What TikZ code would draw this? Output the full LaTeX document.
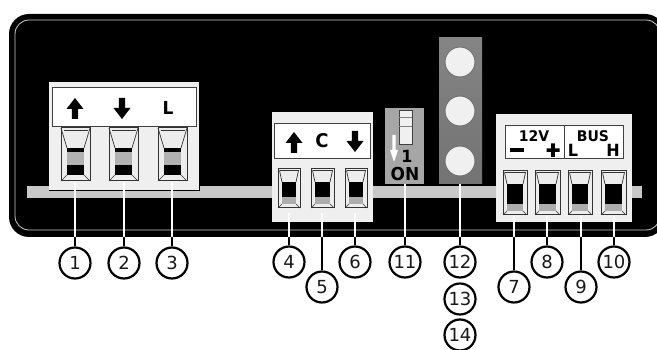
\documentclass[tikz,border=0pt]{standalone}
\usepackage{fontspec}
\setmainfont{DejaVu Sans}
\definecolor{blockfill}{HTML}{EFEFEF}
\definecolor{strip}{HTML}{C8C8C8}
\tikzset{
  x=1pt,y=-1pt,
  blockbox/.style={fill=blockfill,draw=none},
  labelbox/.style={fill=white,draw=black!75,line width=1pt},
  lead/.style={line width=2.2pt,white},
  leadout/.style={line width=2.2pt,black},
  callout/.style={circle,draw=black,line width=2.2pt,fill=white,minimum size=31pt,inner sep=0pt,font=\fontsize{18}{18}\selectfont,text=black!90},
  boldlabel/.style={inner sep=0pt,font=\bfseries\fontsize{14}{14}\selectfont,text=black,yscale=1.05},
  bevel/.style={draw=black!80,line width=0.7pt},
}
\newcommand{\termA}[1]{% left x, 29 wide, y 128-181
  \begin{scope}[shift={(#1,128)}]
    \fill[black!7] (0,0) rectangle (29,53);
    \fill[black] (6,20) rectangle (23,47);
    \fill[black!30] (6,24) rectangle (23,37);
    \draw[bevel,line width=1pt] (0,0) rectangle (29,53);
    \draw[bevel] (0,0) -- (6,20) (29,0) -- (23,20) (0,53) -- (6,47) (29,53) -- (23,47);
    \draw[bevel] (2.5,2) -- (26.5,2);
  \end{scope}}
\newcommand{\termB}[4]{% left x, top y, width, height
  \begin{scope}[shift={(#1,#2)}]
    \fill[black!7] (0,0) rectangle (#3,#4);
    \fill[black] (4,13) rectangle ({#3-4},{#4-4});
    \fill[black!32] (4,{#4-11}) rectangle ({#3-4},{#4-4});
    \draw[bevel,line width=1pt] (0,0) rectangle (#3,#4);
    \draw[bevel] (1.5,1.5) -- (4,13) ({#3-1.5},1.5) -- ({#3-4},13) (0,#4) -- (4,{#4-4}) (#3,#4) -- ({#3-4},{#4-4});
    \draw[bevel] (1.5,1.5) -- ({#3-1.5},1.5);
  \end{scope}}
\newcommand{\uparrowglyph}[3]{% x, top y, bottom y
  \fill[black] (#1,#2) -- ({#1+8.5},{#2+11}) -- ({#1+3.2},{#2+11}) -- ({#1+3.2},#3) -- ({#1-3.2},#3) -- ({#1-3.2},{#2+11}) -- ({#1-8.5},{#2+11}) -- cycle;}
\newcommand{\downarrowglyph}[3]{% x, top y, bottom y
  \fill[black] (#1,#3) -- ({#1+8.5},{#3-11}) -- ({#1+3.2},{#3-11}) -- ({#1+3.2},#2) -- ({#1-3.2},#2) -- ({#1-3.2},{#3-11}) -- ({#1-8.5},{#3-11}) -- cycle;}
\begin{document}
\begin{tikzpicture}
\useasboundingbox (0,0) rectangle (657,350);
% panel
\fill[black,rounded corners=20pt] (9,14) rectangle (665,237);
\draw[white!80!black,line width=0.8pt,rounded corners=14pt] (15,20) rectangle (660,230);
% strip
\fill[strip] (27,186) rectangle (642,198);
% block A
\fill[black] (49,186) rectangle (200,191);
\path[blockbox] (49,82) rectangle (199,190);
\path[labelbox] (52,88) rectangle (196,127);
\termA{61}\termA{109}\termA{158}
\uparrowglyph{75}{98}{119}
\downarrowglyph{122}{98}{119}
\node[boldlabel,font=\bfseries\fontsize{17}{17}\selectfont] (tL) at (168,108) {L};
% block B
\path[blockbox] (272,112) rectangle (373,222);
\path[labelbox] (274.5,124) rectangle (370.5,159);
\termB{278}{169}{22}{39}\termB{311}{169}{23}{39}\termB{345}{169}{22}{39}
\uparrowglyph{294}{132}{153}
\downarrowglyph{355}{131}{152}
\node[boldlabel,font=\bfseries\fontsize{18}{18}\selectfont] (tC) at (322,141) {C};
% switch
\fill[black!35] (385,108) rectangle (424,184);
\draw[black!75,fill=black!6,line width=1pt] (399,111) rectangle (412,145);
\draw[black!50,line width=0.6pt] (399,117) -- (412,117) (399,126) -- (412,126);
\fill[white] (392.3,135) -- (395.7,135) -- (395.7,150) -- (398,150) -- (394,162) -- (390,150) -- (392.3,150) -- cycle;
\node[boldlabel,font=\bfseries\fontsize{16}{16}\selectfont] (tOne) at (407,156) {1};
\node[boldlabel,font=\bfseries\fontsize{17}{17}\selectfont] (tOn) at (405,174) {ON};
% column
\shade[top color=black!48,bottom color=black!55] (439,38) rectangle (482,184);
\foreach \cy in {62,111,161}
  \draw[black!55,fill=black!6,line width=1pt] (460,\cy) circle[radius=15];
% block C
\path[blockbox] (496,114) rectangle (632,222);
\path[labelbox] (505,126) rectangle (623,159);
\draw[black!75,line width=1pt] (564,126) -- (564,159);
\termB{503}{171}{24}{44}\termB{535}{171}{25}{44}\termB{568}{171}{24}{44}\termB{601}{171}{25}{44}
\node[boldlabel] (t12V) at (534,136.5) {12V};
\fill[black] (510,148.5) rectangle (524,152);
\fill[black] (546.5,148.5) rectangle (559.5,152) (551.2,143.5) rectangle (554.8,157);
\node[boldlabel,font=\bfseries\fontsize{16}{16}\selectfont] (tBL) at (573,150) {L};
\node[boldlabel] (tBus) at (593,136.5) {BUS};
\node[boldlabel,font=\bfseries\fontsize{16}{16}\selectfont] (tBH) at (613,150) {H};
% callouts
\foreach \n/\x/\y/\ys in {1/75/263/182,2/124/263/182,3/172/263/182,
   4/289/262/213,5/322/287/213,6/355/262/213,
   7/514/287/216,8/547/262/216,9/581/287/216,10/614/262/216,
   11/405/262/184,12/460/262/184}{
  \coordinate (s\n) at (\x,\ys);
  \coordinate (e\n) at (\x,237);
  \node[callout] (c\n) at (\x,\y) {\n};
  \draw[lead] (s\n) -- (e\n);
  \draw[leadout] (e\n) -- (c\n);
}
\node[callout] (c13) at (460,299) {13};
\node[callout] (c14) at (460,335) {14};
\end{tikzpicture}
\end{document}
